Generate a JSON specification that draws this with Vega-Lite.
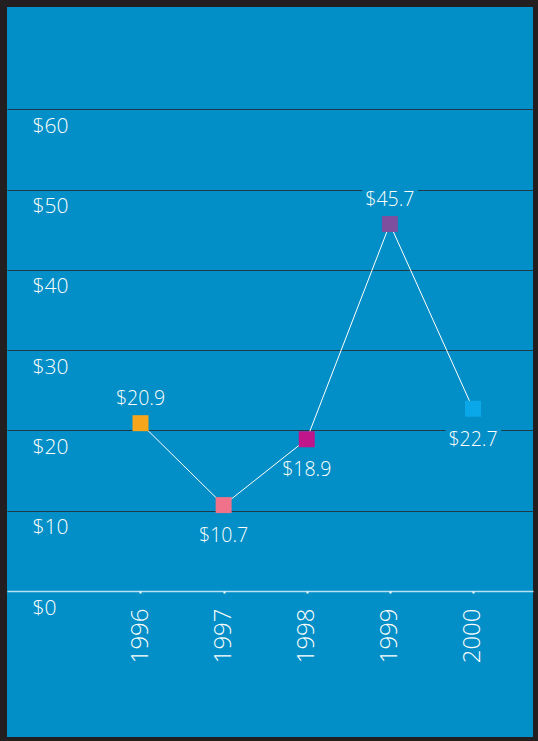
{
  "$schema": "https://vega.github.io/schema/vega-lite/v6.json",
  "width": 526,
  "height": 730,
  "autosize": {"type": "none"},
  "padding": {"left": 7, "top": 7, "right": 5, "bottom": 4},
  "background": "#231f20",
  "view": {"fill": "#028ec6", "stroke": null},
  "config": {"font": "Open Sans"},
  "data": {
    "values": [
      {"year": 1996, "value": 20.9, "label": "$20.9", "pos": "above"},
      {"year": 1997, "value": 10.7, "label": "$10.7", "pos": "below"},
      {"year": 1998, "value": 18.9, "label": "$18.9", "pos": "below"},
      {"year": 1999, "value": 45.7, "label": "$45.7", "pos": "above"},
      {"year": 2000, "value": 22.7, "label": "$22.7", "pos": "below"}
    ]
  },
  "encoding": {
    "x": {
      "field": "year",
      "type": "quantitative",
      "scale": {"domain": [1994.394, 2000.722], "nice": false, "zero": false},
      "axis": {
        "values": [1996, 1997, 1998, 1999, 2000],
        "format": "d",
        "title": null,
        "labelAngle": -90,
        "labelAlign": "right",
        "labelBaseline": "middle",
        "labelFont": "Open Sans",
        "labelFontWeight": 300,
        "labelFontSize": 24,
        "labelColor": "white",
        "labelPadding": 15,
        "labelFlush": false,
        "labelOverlap": false,
        "tickSize": 2,
        "tickWidth": 2,
        "tickColor": "white",
        "domain": false,
        "grid": false,
        "offset": -146
      }
    },
    "y": {
      "field": "value",
      "type": "quantitative",
      "scale": {"domain": [-18.18, 72.73], "nice": false, "zero": false},
      "axis": {
        "values": [0, 10, 20, 30, 40, 50, 60],
        "labelExpr": "'$' + datum.value",
        "title": null,
        "labelAlign": "left",
        "labelBaseline": "alphabetic",
        "labelPadding": -25,
        "labelOffset": 23,
        "labelFont": "Open Sans",
        "labelFontWeight": 300,
        "labelFontSize": 21,
        "labelColor": "white",
        "labelOverlap": false,
        "labelFlush": false,
        "ticks": false,
        "tickSize": 0,
        "domain": false,
        "grid": true,
        "gridColor": {"condition": {"test": "datum.value === 0", "value": "#b8e2f3"}, "value": "#1e3a4a"},
        "gridWidth": {"condition": {"test": "datum.value === 0", "value": 1.5}, "value": 1}
      }
    }
  },
  "layer": [
    {
      "transform": [{"filter": "datum.pos === 'above'"}],
      "mark": {"type": "text", "dy": -18, "baseline": "alphabetic", "align": "center", "fontSize": 19.5, "fontWeight": 300, "fill": "#028ec6", "stroke": "#028ec6", "strokeWidth": 10, "strokeJoin": "round"},
      "encoding": {"text": {"field": "label"}}
    },
    {
      "transform": [{"filter": "datum.pos === 'below'"}],
      "mark": {"type": "text", "dy": 37, "baseline": "alphabetic", "align": "center", "fontSize": 19.5, "fontWeight": 300, "fill": "#028ec6", "stroke": "#028ec6", "strokeWidth": 10, "strokeJoin": "round"},
      "encoding": {"text": {"field": "label"}}
    },
    {
      "mark": {"type": "line", "color": "white", "strokeWidth": 1}
    },
    {
      "mark": {"type": "square", "size": 256, "opacity": 1, "filled": true},
      "encoding": {
        "color": {
          "field": "year",
          "type": "nominal",
          "scale": {"domain": [1996, 1997, 1998, 1999, 2000], "range": ["#f7a51b", "#f0728a", "#c0168c", "#7e4f9c", "#0aa8e8"]},
          "legend": null
        }
      }
    },
    {
      "transform": [{"filter": "datum.pos === 'above'"}],
      "mark": {"type": "text", "dy": -18, "baseline": "alphabetic", "align": "center", "fontSize": 19.5, "fontWeight": 300, "color": "white"},
      "encoding": {"text": {"field": "label"}}
    },
    {
      "transform": [{"filter": "datum.pos === 'below'"}],
      "mark": {"type": "text", "dy": 37, "baseline": "alphabetic", "align": "center", "fontSize": 19.5, "fontWeight": 300, "color": "white"},
      "encoding": {"text": {"field": "label"}}
    }
  ]
}
